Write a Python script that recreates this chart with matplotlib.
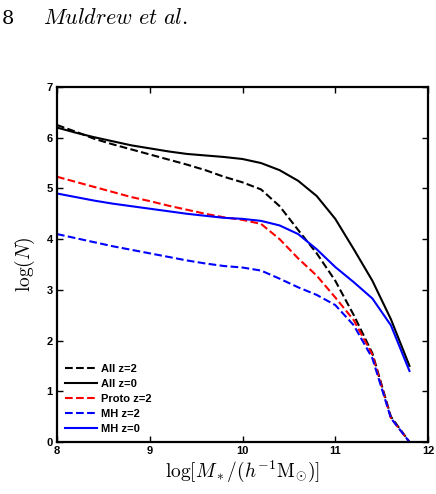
import matplotlib
matplotlib.use('Agg')
import matplotlib.pyplot as plt

# log stellar mass grid
mass = [8.0, 8.2, 8.4, 8.6, 8.8, 9.0, 9.2, 9.4, 9.6, 9.8,
        10.0, 10.2, 10.4, 10.6, 10.8, 11.0, 11.2, 11.4, 11.6, 11.8]

# log(N) for each population
all_z2 = [6.25, 6.12, 5.98, 5.87, 5.77, 5.67, 5.57, 5.47, 5.36, 5.23,
          5.12, 4.98, 4.65, 4.18, 3.72, 3.18, 2.5, 1.75, 0.5, 0.0]
all_z0 = [6.2, 6.1, 6.01, 5.93, 5.85, 5.79, 5.73, 5.68, 5.65, 5.62,
          5.58, 5.5, 5.36, 5.15, 4.85, 4.4, 3.8, 3.18, 2.42, 1.5]
proto_z2 = [5.23, 5.13, 5.03, 4.93, 4.83, 4.75, 4.66, 4.58, 4.5, 4.43,
            4.38, 4.3, 4.0, 3.62, 3.28, 2.85, 2.4, 1.72, 0.47, 0.0]
mh_z2 = [4.1, 4.02, 3.94, 3.86, 3.79, 3.72, 3.65, 3.58, 3.52, 3.47,
         3.44, 3.38, 3.22, 3.05, 2.9, 2.7, 2.3, 1.65, 0.47, 0.0]
mh_z0 = [4.9, 4.83, 4.76, 4.7, 4.65, 4.6, 4.55, 4.5, 4.46, 4.42,
         4.4, 4.36, 4.27, 4.1, 3.8, 3.45, 3.15, 2.83, 2.3, 1.4]

xticks = [8, 9, 10, 11, 12]
yticks = [0, 1, 2, 3, 4, 5, 6, 7]

plt.rcParams['mathtext.fontset'] = 'cm'
plt.rcParams['font.family'] = ['Liberation Sans', 'DejaVu Sans']

fig = plt.figure(figsize=(4.36, 4.94), dpi=100)
ax = fig.add_axes([0.1307, 0.1053, 0.851, 0.7186])

lw = 1.5
ax.plot(mass, all_z2, color='black', linestyle='--', linewidth=lw, label='All z=2')
ax.plot(mass, all_z0, color='black', linestyle='-', linewidth=lw, label='All z=0')
ax.plot(mass, proto_z2, color='#ff0000', linestyle='--', linewidth=lw, label='Proto z=2')
ax.plot(mass, mh_z2, color='#0000ff', linestyle='--', linewidth=lw, label='MH z=2')
ax.plot(mass, mh_z0, color='#0000ff', linestyle='-', linewidth=lw, label='MH z=0')

ax.set_xlim(8, 12)
ax.set_ylim(0, 7)
ax.set_xticks(xticks)
ax.set_yticks(yticks)
ax.set_xticklabels([str(t) for t in xticks], fontsize=8, fontweight='bold')
ax.set_yticklabels([str(t) for t in yticks], fontsize=8, fontweight='bold')
ax.tick_params(direction='in', top=True, right=True, length=4, width=1.0, pad=3)
for sp in ax.spines.values():
    sp.set_linewidth(1.6)

ax.set_xlabel(r'$\log[M_*/(h^{-1}\mathrm{M}_{\odot})]$', fontsize=14, labelpad=2)
ax.set_ylabel(r'$\log(N)$', fontsize=14, labelpad=7)

leg = ax.legend(loc='lower left', frameon=False, prop={'size': 8, 'weight': 'bold'},
                handlelength=2.9, handletextpad=0.4, labelspacing=0.45,
                borderaxespad=0.3, bbox_to_anchor=(0.0, 0.0))

# page header from the paper
fig.text(0.003, 0.962, '8', fontsize=14, family='DejaVu Serif', va='center')
fig.text(0.098, 0.962, r'$\mathit{Muldrew\ et\ al.}$', fontsize=16, va='center')

fig.savefig('out.png', dpi=100)
